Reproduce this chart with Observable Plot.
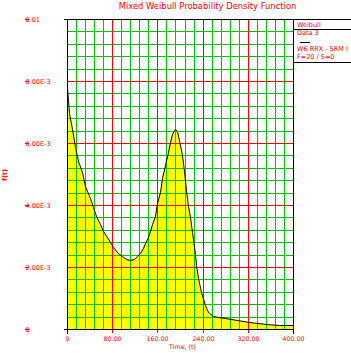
<!DOCTYPE html>
<html><head><meta charset="utf-8">
<script src="https://cdn.jsdelivr.net/npm/d3@7"></script>
<script src="https://cdn.jsdelivr.net/npm/@observablehq/plot@0.6"></script>
<style>body{margin:0;background:#fff;} #chart svg{display:block;}</style>
</head><body><div id="chart"></div>
<script>
// ---- data ----
const tValues = [0,2,4,8,14,20,26,32,40,46,52,58,64,70,76,82,90,98,105,111,118,124,129,134,138,143,147,151,155,160,164,169,173,178,182,186,190,192,195,199,203,207,211,215,218,222,226,228,232,238,244,250,258,268,280,300,323,352,376,400];
const fValues = [0.0078,0.0074,0.00698,0.00645,0.00588,0.00542,0.00505,0.0046,0.00422,0.00392,0.00364,0.00338,0.00315,0.00297,0.00282,0.00266,0.00246,0.00234,0.00226,0.00222,0.00227,0.00234,0.00246,0.00262,0.00277,0.00298,0.00316,0.00338,0.00366,0.00405,0.00442,0.00487,0.00529,0.0057,0.00604,0.00628,0.00642,0.00644,0.00638,0.0061,0.00562,0.0051,0.00448,0.00397,0.0036,0.00312,0.00242,0.00205,0.00165,0.00118,0.00076,0.00055,0.00043,0.00038,0.00034,0.00029,0.00022,0.00016,0.00013,0.00012];
const xTicks = [0,80,160,240,320,400];
const xTickLabels = ["0","80.00","160.00","240.00","320.00","400.00"];
const yTicks = [0,0.002,0.004,0.006,0.008,0.01];
const yTickLabels = ["0","2.00E-3","4.00E-3","6.00E-3","8.00E-3","0.01"];
const titleText = "Mixed Weibull Probability Density Function";
const xLabel = "Time, (t)";
const yLabel = "f(t)";
const legendLines = ["Weibull","Data 3","W6 RRX - SRM I","F=20 / S=0"];

const data = tValues.map((t,i)=>({t, f: fValues[i]}));
const xMajorGrid = xTicks.slice(1,-1);
const yMajorGrid = yTicks.slice(1,-1);
const xMinor = d3.range(0,400,16).filter(v=>v%80!==0);
const yMinor = d3.range(1,25).filter(i=>i%5!==0).map(i=>i*0.0004);

const RED = "#ff0000", GREEN = "#00c000";

const chart = Plot.plot({
  width:351, height:353,
  marginLeft:67, marginRight:58, marginTop:19, marginBottom:24,
  style:{fontFamily:"DejaVu Sans", fontSize:"6.3px", background:"#fff", overflow:"visible"},
  x:{domain:[0,400], round:true, label:null},
  y:{domain:[0,0.01], round:true, label:null},
  marks:[
    Plot.areaY(data,{x:"t", y:"f", fill:"#ffff00"}),
    Plot.ruleX(xMinor,{stroke:GREEN}),
    Plot.ruleY(yMinor,{stroke:GREEN}),
    Plot.ruleX(xMajorGrid,{stroke:RED}),
    Plot.ruleY(yMajorGrid,{stroke:RED}),
    Plot.lineY(data,{x:"t", y:"f", stroke:"#000", strokeWidth:1}),
    Plot.axisY(yTicks,{tickSize:4, tickPadding:0, dx:-38, textAnchor:"start", color:RED, fontSize:6.5,
      tickFormat:d=>yTickLabels[yTicks.indexOf(d)], label:null}),
    Plot.axisX(xTicks,{tickSize:4, tickPadding:3, color:RED,
      tickFormat:d=>xTickLabels[xTicks.indexOf(d)], label:null})
  ]
});
document.getElementById("chart").appendChild(chart);

const sx = chart.scale("x"), sy = chart.scale("y");
const x0 = sx.apply(0)+0.5, x1 = sx.apply(400)+0.5;
const y0 = sy.apply(0)+0.5, y1 = sy.apply(0.01)+0.5;
const svg = d3.select(chart);
const g = svg.append("g").attr("stroke","#000").attr("stroke-width",1).attr("shape-rendering","crispEdges");
g.append("line").attr("x1",x0-4).attr("x2",351).attr("y1",y1).attr("y2",y1);
g.append("line").attr("x1",x0-4).attr("x2",x1).attr("y1",y0).attr("y2",y0);
g.append("line").attr("x1",x0).attr("x2",x0).attr("y1",y1).attr("y2",y0+4);
g.append("line").attr("x1",x1).attr("x2",x1).attr("y1",y1).attr("y2",y0+4);
// legend box
g.append("line").attr("x1",x1).attr("x2",351).attr("y1",29.5).attr("y2",29.5);
g.append("line").attr("x1",x1).attr("x2",351).attr("y1",62.5).attr("y2",62.5);
g.append("line").attr("x1",300).attr("x2",310).attr("y1",42.5).attr("y2",42.5);

const t = svg.append("g").attr("fill",RED).attr("font-family","DejaVu Sans");
t.append("text").attr("x",207.5).attr("y",8.5).attr("text-anchor","middle").attr("font-size","8.4px").text(titleText);
t.append("text").attr("x",182.5).attr("y",349).attr("text-anchor","middle").attr("font-size","6.3px").text(xLabel);
t.append("text").attr("transform","translate(7.3,175) rotate(-90)").attr("text-anchor","middle").attr("font-size","6.5px").attr("font-weight","bold").text(yLabel);
const lg = [[legendLines[0],26.7],[legendLines[1],35],[legendLines[2],50.7],[legendLines[3],59.3]];
lg.forEach(([s,y])=>t.append("text").attr("x",297).attr("y",y).attr("text-anchor","start").attr("font-size","6.5px").text(s));
</script>
</body></html>
